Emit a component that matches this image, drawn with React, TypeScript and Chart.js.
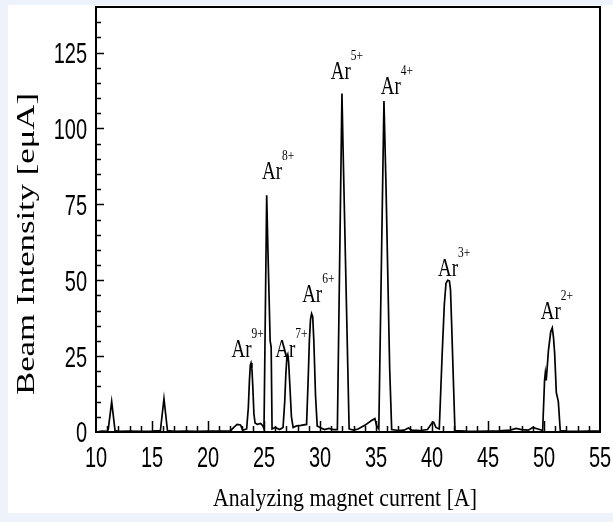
import { useEffect, useRef } from 'react';
import { Chart, registerables } from 'chart.js';

Chart.register(...registerables);

// Analyzing magnet current [A]
const CURRENT = [
  10.0, 10.5, 11.0, 11.1, 11.4, 11.7, 12.0, 13.0, 14.0, 15.0,
  15.75, 16.07, 16.38, 17.0, 18.0, 19.0, 20.0, 21.0, 22.0, 22.3,
  22.6, 22.9, 23.1, 23.45, 23.6, 23.7, 23.78, 23.84, 23.92, 24.0,
  24.1, 24.2, 24.4, 24.7, 24.9, 25.0, 25.24, 25.35, 25.55, 25.64,
  25.72, 26.0, 26.4, 26.7, 26.85, 26.95, 27.05, 27.12, 27.2, 27.3,
  27.45, 27.6, 27.9, 28.3, 28.8, 28.95, 29.05, 29.15, 29.25, 29.35,
  29.45, 29.6, 29.75, 30.0, 30.4, 30.8, 31.2, 31.55, 31.96, 32.05,
  32.6, 33.0, 33.4, 34.0, 34.6, 34.9, 35.05, 35.25, 35.71, 35.9,
  36.22, 36.4, 37.0, 37.5, 37.9, 38.2, 39.0, 39.6, 40.0, 40.15,
  40.35, 40.65, 40.9, 41.1, 41.25, 41.4, 41.55, 41.65, 41.75, 41.9,
  42.05, 43.0, 44.0, 45.0, 46.0, 47.0, 47.5, 48.0, 48.6, 49.0,
  49.88, 50.05, 50.12, 50.2, 50.4, 50.6, 50.74, 50.85, 50.95, 51.1,
  51.28, 51.45, 52.0, 53.0, 54.0, 55.0,
];

// Beam Intensity [eμA]
const INTENSITY = [
  0, 0.3, 0.2, 1, 10, 0.5, 0.2, 0.3, 0.2, 0.3,
  0.5, 11, 0.5, 0.2, 0.3, 0.2, 0.3, 0.3, 0.4, 1.5,
  2.5, 2.3, 0.6, 1, 8, 17, 22, 22.7, 21, 15,
  6, 3, 2.5, 2.8, 2.0, 1, 78, 60, 30, 28,
  1, 1.5, 0.8, 1.5, 10, 19, 25, 25.6, 23, 16,
  5, 1.5, 2, 2.2, 2.5, 18, 30, 37, 39, 38,
  30, 12, 2, 1.5, 0.8, 1.2, 0.8, 0.8, 111.5, 95,
  1, 0.6, 1, 2.2, 3.8, 4.4, 2.2, 1, 109, 80,
  21, 0.8, 0.5, 0.6, 1.3, 0.6, 0.5, 0.8, 3, 3.2,
  1.5, 1, 25, 42, 49, 50, 49.8, 47, 36, 18,
  0.5, 0.3, 0.2, 0.3, 0.4, 0.6, 1.2, 0.8, 0.6, 1.5,
  0.5, 17, 19.5, 17, 27, 33, 34.3, 31, 26, 13,
  10, 0.5, 0.3, 0.2, 0.3, 0.3,
];

const X_TICKS = [10, 15, 20, 25, 30, 35, 40, 45, 50, 55];
const Y_TICKS = [0, 25, 50, 75, 100, 125];

const ION_CHARGES = ['9+', '8+', '7+', '6+', '5+', '4+', '3+', '2+'];
const ION_LABEL_CURRENT = [23.0, 25.71, 26.9, 29.3, 31.85, 36.32, 41.43, 50.61];
const ION_LABEL_INTENSITY = [24.7, 83.4, 24.7, 42.7, 116.2, 111.3, 51.5, 37.3];

const X_TITLE = 'Analyzing magnet current [A]';
const Y_TITLE = 'Beam Intensity [eμA]';

function stretchedText(
  ctx: CanvasRenderingContext2D,
  text: string,
  x: number,
  y: number,
  font: string,
  sx: number,
  sy: number,
  align: CanvasTextAlign,
) {
  ctx.save();
  ctx.translate(x, y);
  ctx.scale(sx, sy);
  ctx.font = font;
  ctx.textAlign = align;
  ctx.textBaseline = 'alphabetic';
  ctx.fillStyle = '#000';
  ctx.fillText(text, 0, 0);
  ctx.restore();
}

const decor = {
  id: 'decor',
  beforeDraw(chart: any) {
    const { ctx, width, height } = chart;
    ctx.save();
    ctx.fillStyle = '#eef3fb';
    ctx.fillRect(0, 0, width, height);
    ctx.fillStyle = '#ffffff';
    ctx.fillRect(8, 5, width - 8, 508);
    ctx.restore();
  },
  afterDraw(chart: any) {
    const { ctx } = chart;
    const xs = chart.scales.x;
    const ys = chart.scales.y;
    const { left, right, top, bottom } = chart.chartArea;

    ctx.save();
    ctx.strokeStyle = '#000';
    ctx.lineWidth = 2;
    ctx.strokeRect(left, top, right - left, bottom - top);

    // x ticks (inward)
    ctx.lineWidth = 1.5;
    ctx.beginPath();
    for (let v = xs.min + 1; v < xs.max; v += 1) {
      const px = Math.round(xs.getPixelForValue(v)) + 0.5;
      const len = v % 5 === 0 ? 11 : 6;
      ctx.moveTo(px, bottom);
      ctx.lineTo(px, bottom - len);
    }
    // y ticks (inward)
    for (let v = ys.min + 5; v < ys.max; v += 5) {
      const py = Math.round(ys.getPixelForValue(v)) + 0.5;
      const len = v % 25 === 0 ? 8 : 5;
      ctx.moveTo(left, py);
      ctx.lineTo(left + len, py);
    }
    ctx.stroke();
    ctx.restore();

    const tickFont = '20px "Liberation Sans", Arial, sans-serif';
    Y_TICKS.forEach((v) => {
      stretchedText(ctx, String(v), left - 9, ys.getPixelForValue(v) + 10.4, tickFont, 1, 1.45, 'right');
    });
    X_TICKS.forEach((v) => {
      stretchedText(ctx, String(v), xs.getPixelForValue(v), bottom + 35, tickFont, 1, 1.45, 'center');
    });

    // axis titles
    const serif = '"Liberation Serif", "Times New Roman", serif';
    ctx.save();
    ctx.font = '22px ' + serif;
    const xw = ctx.measureText(X_TITLE).width;
    ctx.restore();
    stretchedText(ctx, X_TITLE, 345, 506, '22px ' + serif, 264 / xw, 1.17, 'center');

    ctx.save();
    ctx.font = '25px ' + serif;
    const yw = ctx.measureText(Y_TITLE).width;
    ctx.translate(33.5, 244);
    ctx.rotate(-Math.PI / 2);
    ctx.scale(302 / yw, 1);
    ctx.textAlign = 'center';
    ctx.textBaseline = 'alphabetic';
    ctx.fillStyle = '#000';
    ctx.fillText(Y_TITLE, 0, 0);
    ctx.restore();

    // ion labels
    ION_CHARGES.forEach((q, i) => {
      const cx = xs.getPixelForValue(ION_LABEL_CURRENT[i]);
      const by = ys.getPixelForValue(ION_LABEL_INTENSITY[i]);
      stretchedText(ctx, 'Ar', cx, by, '19px ' + serif, 1, 1.3, 'center');
      stretchedText(ctx, q, cx + 10, by - 19, '11.5px ' + serif, 1, 1.3, 'left');
    });
  },
};

export default function App() {
  const ref = useRef<HTMLCanvasElement>(null);
  useEffect(() => {
    if (!ref.current) return;
    const chart = new Chart(ref.current, {
      type: 'line',
      data: {
        datasets: [
          {
            label: 'Beam Intensity',
            data: CURRENT.map((x, i) => ({ x, y: INTENSITY[i] })),
            borderColor: '#000',
            borderWidth: 1.7,
            pointRadius: 0,
            tension: 0,
            fill: false,
          },
        ],
      },
      options: {
        responsive: false,
        animation: false,
        devicePixelRatio: 1,
        layout: { padding: { left: 96, right: 13, top: 7, bottom: 90 } },
        plugins: { legend: { display: false }, tooltip: { enabled: false } },
        scales: {
          x: { type: 'linear', min: 10, max: 55, display: false },
          y: { type: 'linear', min: 0, max: 140, display: false },
        },
      },
      plugins: [decor],
    });
    return () => chart.destroy();
  }, []);
  return (
    <canvas
      ref={ref}
      width={613}
      height={522}
      style={{ position: 'fixed', left: 0, top: 0, width: 613, height: 522 }}
    />
  );
}
